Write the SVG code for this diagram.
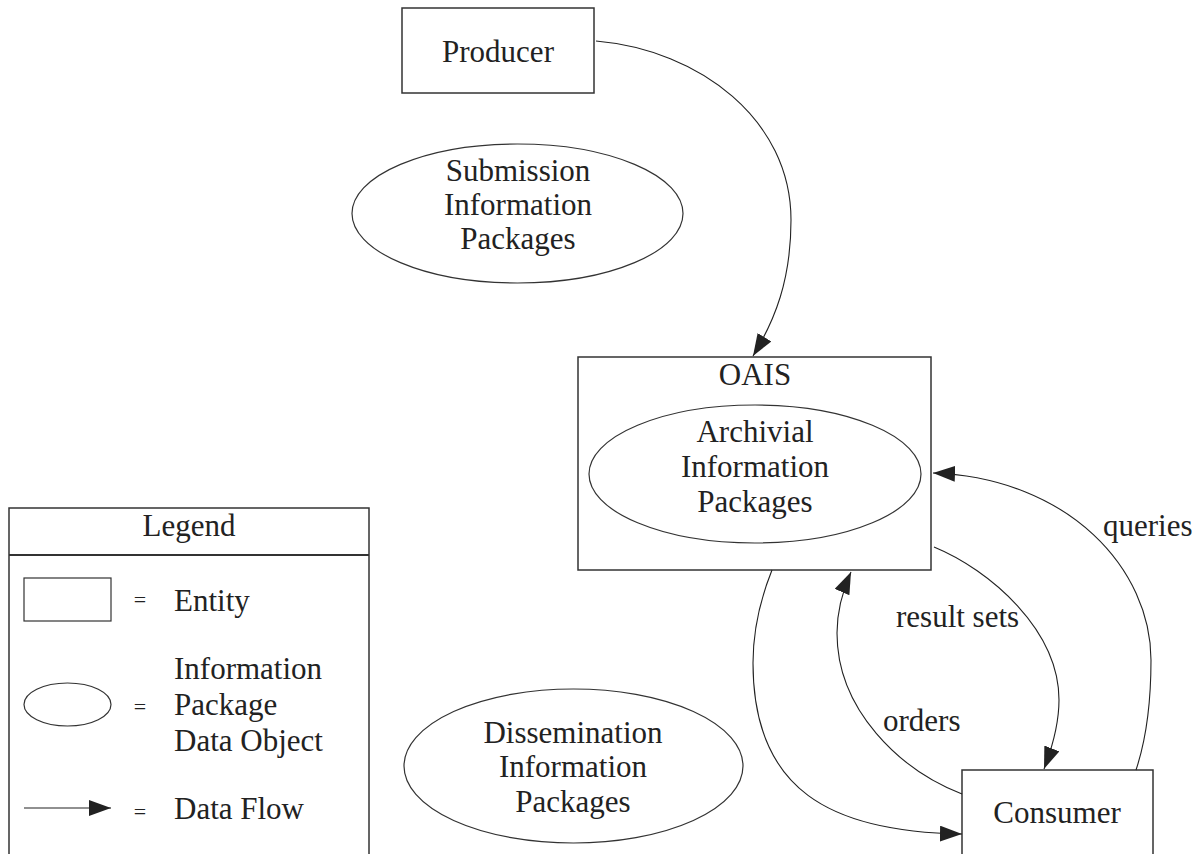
<svg xmlns="http://www.w3.org/2000/svg" width="1199" height="854" viewBox="0 0 1199 854">
<style>
.box{fill:#fff;stroke:#333;stroke-width:1.5}
.ell{fill:#fff;stroke:#333;stroke-width:1.2}
.t{font-family:"Liberation Serif","Times New Roman",serif;font-size:31px;fill:#222}
.m{text-anchor:middle}
.eq{font-family:"Liberation Serif","Times New Roman",serif;font-size:22px;fill:#222;text-anchor:middle}
.flow{fill:none;stroke:#222;stroke-width:1.1}
</style>
<defs>
<marker id="ah" markerUnits="userSpaceOnUse" markerWidth="24" markerHeight="18" refX="22" refY="8" orient="auto">
<path d="M0,0 L22,8 L0,16 Z" fill="#222"/>
</marker>
</defs>
<rect width="1199" height="854" fill="#fff"/>

<g id="producer">
<rect class="box" x="402" y="8" width="192" height="85"/>
<text class="t m" x="498" y="62">Producer</text>
</g>

<g id="sip">
<ellipse class="ell" cx="517.5" cy="213.5" rx="165.5" ry="69.5"/>
<text class="t m" x="518" y="181">Submission</text>
<text class="t m" x="518" y="215">Information</text>
<text class="t m" x="518" y="249">Packages</text>
</g>

<g id="oais">
<rect class="box" x="578" y="357" width="353" height="213"/>
<text class="t m" x="755" y="385">OAIS</text>
<g id="aip">
<ellipse class="ell" cx="755" cy="474" rx="166" ry="69"/>
<text class="t m" x="755" y="442">Archivial</text>
<text class="t m" x="755" y="477">Information</text>
<text class="t m" x="755" y="512">Packages</text>
</g>
</g>

<g id="dip">
<ellipse class="ell" cx="573.5" cy="766" rx="169.5" ry="77"/>
<text class="t m" x="573" y="743">Dissemination</text>
<text class="t m" x="573" y="777">Information</text>
<text class="t m" x="573" y="812">Packages</text>
</g>

<g id="consumer">
<rect class="box" x="962" y="770" width="191" height="100"/>
<text class="t m" x="1057" y="823">Consumer</text>
</g>

<g id="legend">
<rect class="box" x="9" y="508" width="360" height="360"/>
<line x1="9" y1="555" x2="369" y2="555" stroke="#333" stroke-width="2"/>
<text class="t m" x="189" y="536">Legend</text>
<rect class="box" x="24" y="578" width="87" height="43" style="stroke-width:1.2"/>
<text class="eq" x="140" y="607">=</text>
<text class="t" x="174" y="611">Entity</text>
<ellipse class="ell" cx="67.5" cy="704.5" rx="43.5" ry="21.5"/>
<text class="eq" x="140" y="714">=</text>
<text class="t" x="174" y="679">Information</text>
<text class="t" x="174" y="715">Package</text>
<text class="t" x="174" y="751">Data Object</text>
<line class="flow" x1="24" y1="808" x2="111" y2="808" marker-end="url(#ah)"/>
<text class="eq" x="140" y="819">=</text>
<text class="t" x="174" y="819">Data Flow</text>
</g>

<g id="connectors">
<path class="flow" d="M596,41 C700,50 791,120 791,220 C791,280 775,320 753,356" marker-end="url(#ah)"/>
<path class="flow" d="M1136,770 C1146,740 1151,700 1151,660 C1151,570 1070,478 933,473" marker-end="url(#ah)"/>
<text class="t" x="1103" y="536">queries</text>
<path class="flow" d="M934,547 C990,570 1059,630 1059,700 C1059,725 1052,748 1044,769" marker-end="url(#ah)"/>
<text class="t" x="896" y="627">result sets</text>
<path class="flow" d="M962,794 C900,770 837,710 837,633 C837,610 843,590 851,572" marker-end="url(#ah)"/>
<text class="t" x="883" y="731">orders</text>
<path class="flow" d="M772,570 C760,600 753,630 753,663 C753,790 830,832 962,834" marker-end="url(#ah)"/>
</g>
</svg>
